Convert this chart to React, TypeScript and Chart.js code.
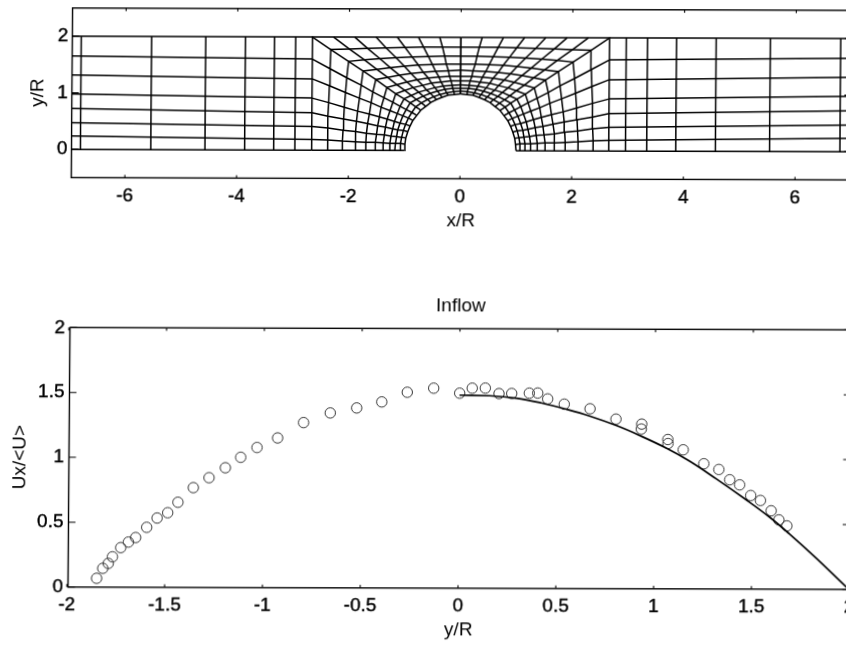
import React, { useEffect, useRef } from "react";
import { Chart, registerables } from "chart.js";

Chart.register(...registerables);

// ---- top panel: mesh (right half; the left half is its mirror image) ----
const meshX: number[][] = [
  [1.0, 1.07, 1.17, 1.26, 1.38, 1.52, 1.69, 1.88, 2.11, 2.38, 2.66],
  [0.99, 1.07, 1.16, 1.26, 1.38, 1.52, 1.69, 1.88, 2.11, 2.38, 2.66],
  [0.975, 1.05, 1.14, 1.24, 1.36, 1.5, 1.68, 1.87, 2.1, 2.37, 2.66],
  [0.94, 1.02, 1.12, 1.21, 1.34, 1.48, 1.66, 1.86, 2.09, 2.37, 2.66],
  [0.9, 0.98, 1.08, 1.18, 1.31, 1.45, 1.63, 1.84, 2.08, 2.36, 2.66],
  [0.85, 0.93, 1.03, 1.13, 1.26, 1.42, 1.6, 1.81, 2.06, 2.35, 2.66],
  [0.78, 0.87, 0.97, 1.08, 1.21, 1.37, 1.57, 1.78, 2.04, 2.34, 2.66],
  [0.71, 0.8, 0.9, 1.01, 1.16, 1.32, 1.52, 1.75, 2.01, 2.33, 2.66],
  [0.62, 0.7, 0.79, 0.88, 1.0, 1.14, 1.31, 1.5, 1.73, 2.0, 2.28],
  [0.53, 0.59, 0.67, 0.75, 0.85, 0.96, 1.1, 1.26, 1.45, 1.67, 1.9],
  [0.43, 0.48, 0.54, 0.61, 0.68, 0.78, 0.89, 1.01, 1.16, 1.34, 1.52],
  [0.33, 0.37, 0.41, 0.46, 0.52, 0.58, 0.67, 0.76, 0.87, 1.0, 1.14],
  [0.22, 0.25, 0.28, 0.31, 0.35, 0.39, 0.45, 0.51, 0.58, 0.67, 0.76],
  [0.11, 0.12, 0.14, 0.15, 0.17, 0.2, 0.22, 0.26, 0.29, 0.33, 0.38],
  [0, 0, 0, 0, 0, 0, 0, 0, 0, 0, 0],
];
const meshY: number[][] = [
  [0, 0, 0, 0, 0, 0, 0, 0, 0, 0, 0],
  [0.11, 0.12, 0.12, 0.12, 0.13, 0.14, 0.14, 0.15, 0.16, 0.18, 0.19],
  [0.22, 0.23, 0.24, 0.25, 0.27, 0.28, 0.3, 0.33, 0.35, 0.39, 0.42],
  [0.33, 0.35, 0.36, 0.38, 0.41, 0.43, 0.47, 0.51, 0.55, 0.6, 0.66],
  [0.43, 0.46, 0.48, 0.51, 0.55, 0.59, 0.64, 0.69, 0.76, 0.84, 0.92],
  [0.53, 0.57, 0.61, 0.65, 0.7, 0.76, 0.84, 0.92, 1.02, 1.14, 1.26],
  [0.62, 0.67, 0.72, 0.78, 0.85, 0.93, 1.03, 1.15, 1.28, 1.44, 1.61],
  [0.71, 0.77, 0.84, 0.91, 1.0, 1.11, 1.25, 1.4, 1.57, 1.78, 2.0],
  [0.78, 0.84, 0.9, 0.97, 1.06, 1.16, 1.29, 1.43, 1.6, 1.79, 2.0],
  [0.85, 0.9, 0.96, 1.03, 1.11, 1.21, 1.33, 1.46, 1.62, 1.8, 2.0],
  [0.9, 0.95, 1.01, 1.07, 1.15, 1.25, 1.36, 1.49, 1.64, 1.81, 2.0],
  [0.94, 0.99, 1.05, 1.11, 1.19, 1.28, 1.38, 1.51, 1.65, 1.82, 2.0],
  [0.98, 1.02, 1.08, 1.14, 1.21, 1.3, 1.4, 1.52, 1.66, 1.83, 2.0],
  [0.99, 1.04, 1.1, 1.15, 1.23, 1.31, 1.41, 1.53, 1.67, 1.83, 2.0],
  [1.0, 1.05, 1.1, 1.16, 1.23, 1.31, 1.42, 1.53, 1.67, 1.83, 2.0],
];
const blockColumnsX = [2.96, 3.34, 3.86, 4.57, 5.54, 6.8];
const blockRowsInnerY = [0, 0.19, 0.42, 0.66, 0.92, 1.26, 1.61, 2];
const blockRowsOuterY = [0, 0.235, 0.47, 0.725, 0.98, 1.315, 1.65, 2];
const blockInnerX = 2.66;
const blockOuterX = 7;
const topXTicks = [-6, -4, -2, 0, 2, 4, 6];
const topYTicks = [0, 1, 2];

// ---- bottom panel ----
const measuredX = [
  -1.848, -1.817, -1.789, -1.768, -1.726, -1.687, -1.65, -1.594, -1.541, -1.487, -1.435, -1.357, -1.277,
  -1.194, -1.116, -1.033, -0.928, -0.796, -0.66, -0.525, -0.397, -0.267, -0.132, 0.001, 0.065, 0.132,
  0.202, 0.267, 0.357, 0.4, 0.451, 0.536, 0.668, 0.801, 0.933, 0.931, 1.067, 1.068, 1.146, 1.252, 1.329,
  1.385, 1.436, 1.493, 1.543, 1.598, 1.638, 1.679,
];
const measuredY = [
  0.068, 0.145, 0.183, 0.234, 0.305, 0.348, 0.383, 0.462, 0.534, 0.575, 0.656, 0.769, 0.846, 0.923, 1.004,
  1.08, 1.154, 1.273, 1.348, 1.387, 1.434, 1.509, 1.541, 1.503, 1.542, 1.543, 1.501, 1.502, 1.505, 1.506,
  1.461, 1.421, 1.386, 1.307, 1.269, 1.231, 1.151, 1.12, 1.072, 0.965, 0.921, 0.842, 0.803, 0.721, 0.683,
  0.604, 0.534, 0.488,
];
const curveX = [0, 0.154, 0.29, 0.418, 0.546, 0.666, 0.802, 0.922, 1.059, 1.179, 1.316, 1.47, 1.59, 1.693, 1.83, 1.977, 2];
const curveY = [1.488, 1.484, 1.466, 1.43, 1.382, 1.33, 1.258, 1.182, 1.085, 0.985, 0.849, 0.688, 0.555, 0.425, 0.24, 0.03, 0];
const bottomXTicks = [-2, -1.5, -1, -0.5, 0, 0.5, 1, 1.5, 2];
const bottomYTicks = [0, 0.5, 1, 1.5, 2];

const FONT = "'Liberation Sans', Arial, sans-serif";
const FONT_SIZE = 19;
const INK = "#000";

type Pt = { x: number; y: number };

function meshLines(): Pt[][] {
  const lines: Pt[][] = [];
  for (const sign of [1, -1]) {
    meshX.forEach((row, k) => lines.push(row.map((x, j) => ({ x: sign * x, y: meshY[k][j] }))));
    meshX[0].forEach((_, j) => lines.push(meshX.map((row, k) => ({ x: sign * row[j], y: meshY[k][j] }))));
    blockColumnsX.forEach((x) => lines.push([{ x: sign * x, y: 0 }, { x: sign * x, y: 2 }]));
    blockRowsInnerY.forEach((y, i) =>
      lines.push([{ x: sign * blockInnerX, y }, { x: sign * blockOuterX, y: blockRowsOuterY[i] }])
    );
  }
  return lines;
}

const framePlugin = {
  id: "frame",
  afterDatasetsDraw(chart: any, _a: any, opts: any) {
    const { ctx, chartArea: a, scales } = chart;
    ctx.save();
    ctx.strokeStyle = INK;
    ctx.lineWidth = 1.4;
    ctx.strokeRect(a.left, a.top, a.right - a.left, a.bottom - a.top);
    ctx.lineWidth = 1.1;
    ctx.beginPath();
    for (const t of scales.x.ticks) {
      const p = scales.x.getPixelForValue(t.value);
      ctx.moveTo(p, a.bottom);
      ctx.lineTo(p, a.bottom - opts.xTick);
      ctx.moveTo(p, a.top);
      ctx.lineTo(p, a.top + opts.xTick);
    }
    for (const t of scales.y.ticks) {
      const p = scales.y.getPixelForValue(t.value);
      ctx.moveTo(a.left, p);
      ctx.lineTo(a.left + opts.yTick, p);
      ctx.moveTo(a.right, p);
      ctx.lineTo(a.right - opts.yTick, p);
    }
    ctx.stroke();
    ctx.restore();
  },
};

function axis(o: {
  min: number;
  max: number;
  ticks: number[];
  title: string;
  size: number;
  isX: boolean;
  titlePad: any;
  tickPad: number;
}) {
  return {
    type: "linear",
    min: o.min,
    max: o.max,
    grid: { display: false, drawTicks: false },
    border: { display: false },
    afterBuildTicks: (s: any) => {
      s.ticks = o.ticks.map((value) => ({ value }));
    },
    afterFit: (s: any) => {
      if (o.isX) s.height = o.size;
      else s.width = o.size;
      s.paddingLeft = 0;
      s.paddingRight = 0;
      s.paddingTop = 0;
      s.paddingBottom = 0;
    },
    ticks: {
      autoSkip: false,
      maxRotation: 0,
      minRotation: 0,
      padding: o.tickPad,
      color: INK,
      textStrokeColor: INK,
      textStrokeWidth: 0.4,
      font: { family: FONT, size: FONT_SIZE },
      callback: (v: any) => String(v),
    },
    title: {
      display: true,
      text: o.title,
      color: INK,
      font: { family: FONT, size: FONT_SIZE },
      padding: o.titlePad,
    },
  };
}

export default function App() {
  const topRef = useRef<HTMLCanvasElement>(null);
  const botRef = useRef<HTMLCanvasElement>(null);

  useEffect(() => {
    const top = new Chart(topRef.current as any, {
      type: "scatter",
      plugins: [framePlugin],
      data: {
        datasets: meshLines().map((data) => ({
          data,
          showLine: true,
          pointRadius: 0,
          borderColor: INK,
          borderWidth: 1.5,
        })),
      },
      options: {
        animation: false,
        responsive: false,
        events: [],
        layout: { padding: { left: 0, top: 7.8, right: 900 - 852.2, bottom: 0 } },
        plugins: {
          legend: { display: false },
          tooltip: { enabled: false },
          title: { display: false },
          frame: { xTick: 3, yTick: 7 },
        },
        scales: {
          x: axis({ min: -6.96, max: 7, ticks: topXTicks, title: "x/R", size: 62.6, isX: true, titlePad: { top: 0, bottom: 9 }, tickPad: 7 }),
          y: axis({ min: -0.5, max: 2.5, ticks: topYTicks, title: "y/R", size: 72.6, isX: false, titlePad: { top: 27, bottom: 0 }, tickPad: 4 }),
        },
      } as any,
    });

    const bottom = new Chart(botRef.current as any, {
      type: "scatter",
      plugins: [framePlugin],
      data: {
        datasets: [
          {
            label: "Computed",
            data: curveX.map((x, i) => ({ x, y: curveY[i] })),
            showLine: true,
            pointRadius: 0,
            borderColor: INK,
            borderWidth: 1.7,
            tension: 0.4,
          },
          {
            label: "Measured",
            data: measuredX.map((x, i) => ({ x, y: measuredY[i] })),
            showLine: false,
            pointStyle: "circle",
            pointRadius: 5.2,
            pointBorderWidth: 1,
            pointBorderColor: "#333",
            pointBackgroundColor: "rgba(0,0,0,0)",
          },
        ],
      },
      options: {
        animation: false,
        responsive: false,
        events: [],
        layout: { padding: { left: 0, top: 0, right: 900 - 853.7, bottom: 0 } },
        plugins: {
          legend: { display: false },
          tooltip: { enabled: false },
          title: {
            display: true,
            text: "Inflow",
            fullSize: false,
            color: INK,
            font: { family: FONT, size: FONT_SIZE, weight: "normal" },
            padding: { top: 13.5, bottom: 11 },
          },
          frame: { xTick: 3, yTick: 7 },
        },
        scales: {
          x: axis({ min: -1.994, max: 2, ticks: bottomXTicks, title: "y/R", size: 53.2, isX: true, titlePad: { top: 0, bottom: 0 }, tickPad: 7 }),
          y: axis({ min: 0, max: 2, ticks: bottomYTicks, title: "Ux/<U>", size: 72.5, isX: false, titlePad: { top: 12, bottom: 0 }, tickPad: 5 }),
        },
      } as any,
    });

    return () => {
      top.destroy();
      bottom.destroy();
    };
  }, []);

  return (
    <div style={{ position: "fixed", left: 0, top: 0, width: 846, height: 646, overflow: "hidden", background: "#fff" }}>
      <div
        style={{
          position: "absolute",
          left: 0,
          top: 0,
          width: 900,
          height: 660,
          transformOrigin: "0 0",
          transform: "matrix(1, 0.003, -0.0077, 1, 0, 0)",
          filter: "blur(0.3px)",
        }}
      >
        <canvas ref={topRef} width={900} height={240} style={{ position: "absolute", left: 0, top: 0 }} />
        <canvas ref={botRef} width={900} height={360} style={{ position: "absolute", left: 0, top: 280 }} />
      </div>
    </div>
  );
}
